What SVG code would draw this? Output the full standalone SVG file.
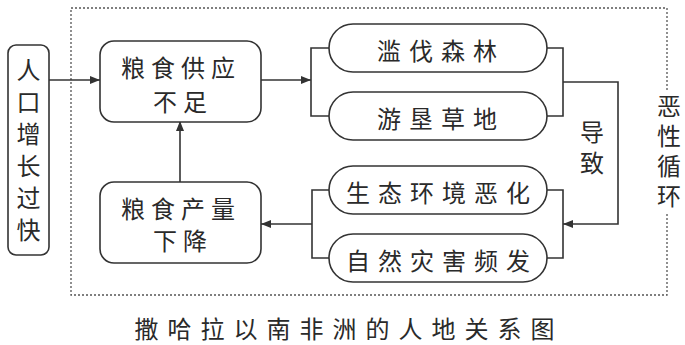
<svg xmlns="http://www.w3.org/2000/svg" width="685" height="345" viewBox="0 0 685 345">
<defs>
<style>
.box{fill:#fff;stroke:#333;stroke-width:1.6}
.ln{fill:none;stroke:#333;stroke-width:1.6}
.dot{fill:none;stroke:#555;stroke-width:1.3;stroke-dasharray:2 2}
.t{font-family:"Noto Sans CJK SC","Noto Sans CJK JP",sans-serif;font-size:24px;fill:#2a2a2a;dominant-baseline:central;text-anchor:middle}
.v{writing-mode:tb;text-orientation:upright}
</style>
<marker id="ah" viewBox="0 0 10 8" refX="10" refY="4" markerWidth="10" markerHeight="8" markerUnits="userSpaceOnUse" orient="auto">
<path d="M0,0 L10,4 L0,8 z" fill="#333"/>
</marker>
</defs>
<rect width="685" height="345" fill="#fff"/>
<g id="loop-frame">
<path class="dot" d="M667,90 V8 H71 V295 H667 V213"/>
</g>
<g id="connectors">
<path class="ln" d="M49,80 H100" marker-end="url(#ah)"/>
<path class="ln" d="M261,80 H311" marker-end="url(#ah)"/>
<path class="ln" d="M329,48 H311 V116 H329"/>
<path class="ln" d="M547,48 H563 V116 H547"/>
<path class="ln" d="M563,82 H618 V224 H563" marker-end="url(#ah)"/>
<path class="ln" d="M547,190 H563 V258 H547"/>
<path class="ln" d="M329,190 H312 V258 H329"/>
<path class="ln" d="M312,224 H261" marker-end="url(#ah)"/>
<path class="ln" d="M180,182 V121" marker-end="url(#ah)"/>
</g>
<g id="n-population">
<rect class="box" x="8" y="45" width="41" height="210" rx="8"/>
<text class="t v" x="28.5" y="153.5" letter-spacing="8">人口增长过快</text>
</g>
<g id="n-food-shortage">
<rect class="box" x="100" y="41" width="161" height="81" rx="14"/>
<text class="t" x="181" y="66" letter-spacing="6">粮食供应</text>
<text class="t" x="183" y="100" letter-spacing="6">不足</text>
</g>
<g id="n-deforest">
<rect class="box" x="329" y="24" width="218" height="48" rx="24"/>
<text class="t" x="441" y="49" letter-spacing="8">滥伐森林</text>
</g>
<g id="n-grassland">
<rect class="box" x="329" y="92" width="218" height="48" rx="24"/>
<text class="t" x="441" y="117" letter-spacing="8">游垦草地</text>
</g>
<g id="n-eco">
<rect class="box" x="329" y="166" width="218" height="48" rx="24"/>
<text class="t" x="442" y="191" letter-spacing="8">生态环境恶化</text>
</g>
<g id="n-disaster">
<rect class="box" x="329" y="234" width="218" height="48" rx="24"/>
<text class="t" x="442" y="259" letter-spacing="8">自然灾害频发</text>
</g>
<g id="n-food-decline">
<rect class="box" x="100" y="182" width="161" height="81" rx="14"/>
<text class="t" x="181" y="207" letter-spacing="6">粮食产量</text>
<text class="t" x="183" y="239" letter-spacing="6">下降</text>
</g>
<g id="labels">
<text class="t v" x="592" y="151" letter-spacing="7">导致</text>
<text class="t v" x="669" y="153.5" letter-spacing="6">恶性循环</text>
<text class="t" x="349" y="327" letter-spacing="9">撒哈拉以南非洲的人地关系图</text>
</g>
</svg>
